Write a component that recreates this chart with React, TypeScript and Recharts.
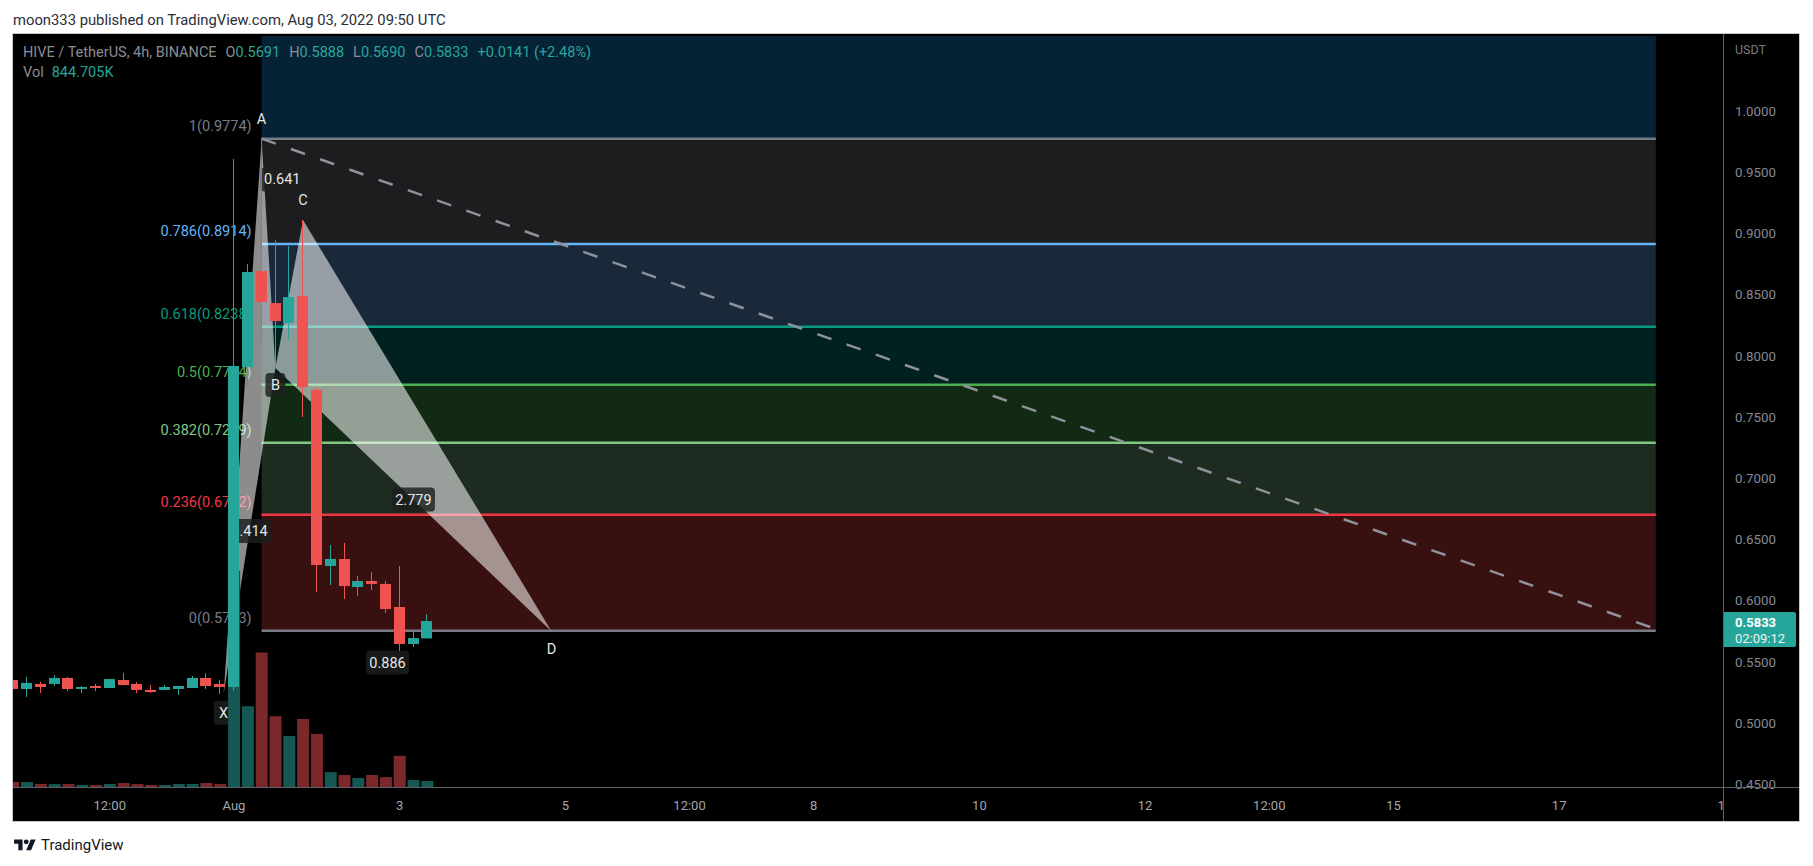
import React from 'react';
import {
  ComposedChart,
  Bar,
  Cell,
  XAxis,
  YAxis,
  ReferenceArea,
  ReferenceLine,
  Scatter,
} from 'recharts';

// 4h bars, index 0 = Aug 1 00:00 UTC
const barIndex = [
  -16, -15, -14, -13, -12, -11, -10, -9, -8, -7, -6, -5, -4, -3, -2, -1,
  0, 1, 2, 3, 4, 5, 6, 7, 8, 9, 10, 11, 12, 13, 14,
];
const opens = [
  0.5351, 0.5278, 0.5319, 0.5319, 0.5368, 0.5278, 0.5302, 0.5286, 0.5351, 0.5319, 0.527, 0.527, 0.5278, 0.5286, 0.5368, 0.5319,
  0.5294, 0.7908, 0.8693, 0.8431, 0.8268, 0.8489, 0.7721, 0.6283, 0.634, 0.6111, 0.616, 0.6136, 0.5948, 0.5645, 0.5691,
];
const highs = [
  0.5409, 0.5376, 0.5335, 0.5392, 0.5376, 0.5302, 0.5319, 0.5362, 0.5409, 0.5335, 0.531, 0.531, 0.5304, 0.5384, 0.5409, 0.5351,
  0.9608, 0.875, 0.9774, 0.8946, 0.8897, 0.9109, 0.7737, 0.6454, 0.6471, 0.6201, 0.6234, 0.616, 0.6283, 0.5752, 0.5888,
];
const lows = [
  0.527, 0.5212, 0.5245, 0.5302, 0.5261, 0.5245, 0.5261, 0.5284, 0.5308, 0.5245, 0.5245, 0.5268, 0.5229, 0.5284, 0.5278, 0.5238,
  0.5262, 0.7753, 0.8105, 0.79, 0.8137, 0.75, 0.607, 0.6127, 0.6013, 0.6038, 0.6087, 0.5899, 0.5588, 0.5621, 0.569,
];
const closes = [
  0.5278, 0.5327, 0.5294, 0.5368, 0.5278, 0.5294, 0.5286, 0.5359, 0.531, 0.527, 0.5253, 0.5294, 0.5302, 0.5368, 0.5302, 0.5294,
  0.7917, 0.8685, 0.844, 0.8284, 0.848, 0.7745, 0.6291, 0.634, 0.6119, 0.616, 0.6136, 0.5931, 0.5645, 0.5694, 0.5833,
];
// volume in thousands
const volumes = [
  690, 710, 430, 410, 440, 300, 270, 420, 560, 410, 290, 280, 430, 420, 570, 430,
  30500, 11400, 19000, 10000, 7200, 9600, 7500, 2100, 1700, 1270, 1700, 1400, 4400, 990, 844.705,
];

const fibRatios = [1, 0.786, 0.618, 0.5, 0.382, 0.236, 0];
const fibPrices = [0.9774, 0.8914, 0.8238, 0.7764, 0.7289, 0.6702, 0.5753];
const fibStart = 2;
const fibEnd = 103;

const patternNames = ['X', 'A', 'B', 'C', 'D'];
const patternIndex = [-0.75, 2, 3, 5, 23];
const patternPrices = [0.5238, 0.9774, 0.79, 0.9109, 0.575];
const ratioTexts = ['0.414', '0.641', '2.779', '0.886'];
const ratioPairs = [['X', 'B'], ['A', 'C'], ['B', 'D'], ['X', 'D']];

const trendIndex = [2, 102.8];
const trendPrices = [0.9774, 0.5776];

const timeTicks = [-9, 0, 12, 24, 33, 42, 54, 66, 75, 84, 96, 108];
const timeLabels = ['12:00', 'Aug', '3', '5', '12:00', '8', '10', '12', '12:00', '15', '17', '19'];
const priceTicks = [0.45, 0.5, 0.55, 0.6, 0.65, 0.7, 0.75, 0.8, 0.85, 0.9, 0.95, 1.0];

const lastPrice = 0.5833;
const countdown = '02:09:12';

// layout / style
const W = 1813;
const H = 866;
const MARGIN = { top: 36, right: 14, bottom: 45, left: 13 };
const PRICE_AXIS_W = 76;
const TIME_AXIS_H = 34;
const PLOT_RIGHT = W - MARGIN.right - PRICE_AXIS_W;
const X_DOMAIN: [number, number] = [-16.01, 107.87];
const Y_DOMAIN: [number, number] = [0.4477, 1.0613];
const FONT = 'Roboto, "Noto Sans", sans-serif';
const BODY_W = 11;
const UP = '#26a69a';
const DOWN = '#ef5350';
const UP_VOL = '#155752';
const DOWN_VOL = '#7a2829';
const fibLineColors = ['#787b86', '#64b5f6', '#089981', '#4caf50', '#81c784', '#f23645', '#787b86'];
const topBandColor = '#062237';
const fibBandColors = ['#1d1d1f', '#19293a', '#012121', '#122a14', '#1e2b20', '#38100f'];
const patternFill = 'rgba(255,255,255,0.55)';
const labelBox = 'rgba(28,32,30,0.82)';
const labelDy: Record<string, number> = { X: 19, A: -20, B: 17, C: -20, D: 18 };

const candleRows = barIndex.map((i, k) => ({
  i,
  o: opens[k],
  h: highs[k],
  l: lows[k],
  c: closes[k],
  range: [lows[k], highs[k]],
  vol: volumes[k],
}));

const pt = (name: string) => {
  const k = patternNames.indexOf(name);
  return { i: patternIndex[k], p: patternPrices[k] };
};
const xabPoints = ['X', 'A', 'B'].map(pt);
const bcdPoints = ['B', 'C', 'D'].map(pt);

const patternLabels = [
  ...patternNames.map((n, k) => ({ i: patternIndex[k], p: patternPrices[k], text: n, dy: labelDy[n], box: n === 'X' || n === 'B' })),
  ...ratioTexts.map((t, k) => {
    const a = pt(ratioPairs[k][0]);
    const b = pt(ratioPairs[k][1]);
    return { i: (a.i + b.i) / 2, p: (a.p + b.p) / 2, text: t, dy: 0, box: true };
  }),
];

const fibLabels = fibRatios.map((r, k) => ({
  i: fibStart,
  p: fibPrices[k],
  text: `${r}(${fibPrices[k].toFixed(4)})`,
  color: fibLineColors[k],
}));

function CandleShape(props: any) {
  const { x, y, width, height } = props;
  const row = props.payload && props.payload.o !== undefined ? props.payload : props;
  if (!Number.isFinite(y) || !Number.isFinite(height) || row.o === undefined) return <g />;
  const { o, h, l, c } = row;
  const yTop = Math.min(y, y + height);
  const full = Math.abs(height);
  const span = h - l || 1;
  const py = (v: number) => yTop + ((h - v) / span) * full;
  const color = c >= o ? UP : DOWN;
  const center = x + (Number.isFinite(width) ? width : 0) / 2;
  const left = Math.round(center - BODY_W / 2);
  const mid = left + Math.floor(BODY_W / 2) + 0.5;
  const top = py(Math.max(o, c));
  const bottom = py(Math.min(o, c));
  return (
    <g>
      <line x1={mid} x2={mid} y1={yTop} y2={yTop + full} stroke={color} strokeWidth={1} />
      <rect x={left} y={top} width={BODY_W} height={Math.max(1, bottom - top)} fill={color} />
    </g>
  );
}

const polygonLine = (fill: string) => (props: any) => {
  const pts = (props.points || []).map((q: any) => `${q.x},${q.y}`).join(' ');
  return <polygon points={pts} fill={fill} stroke="none" />;
};

function TagShape(props: any) {
  const { cx, cy, payload } = props;
  if (!payload) return <g />;
  const { text, dy, box } = payload;
  const w = Math.max(20, text.length * 7 + 8);
  return (
    <g>
      {box && <rect x={cx - w / 2} y={cy + dy - 12} width={w} height={24} rx={4} fill={labelBox} />}
      <text x={cx} y={cy + dy} dy="0.35em" textAnchor="middle" fill="#e6e6e6" fontSize={14.5} fontFamily={FONT}>
        {text}
      </text>
    </g>
  );
}

function FibLabel(props: any) {
  const { cx, cy, payload } = props;
  if (!payload) return <g />;
  return (
    <text x={cx - 10} y={cy - 13} dy="0.35em" textAnchor="end" fill={payload.color} fontSize={14.5} fontFamily={FONT}>
      {payload.text}
    </text>
  );
}

function TimeTick(props: any) {
  const { x, y, payload } = props;
  const k = timeTicks.indexOf(payload.value);
  return (
    <svg x={0} y={0} width={PLOT_RIGHT} height={H} overflow="hidden">
      <text x={x} y={y} dy="0.71em" textAnchor="middle" fill="#a3a6af" fontSize={13} fontFamily={FONT}>
        {timeLabels[k]}
      </text>
    </svg>
  );
}

function PriceTag(props: any) {
  const { viewBox } = props;
  if (!viewBox) return <g />;
  const x = viewBox.x + viewBox.width;
  const y = viewBox.y;
  return (
    <g>
      <rect x={x} y={y - 9} width={73} height={35} rx={2} fill={UP} />
      <text x={x + 12} y={y + 1} dy="0.35em" fill="#ffffff" fontWeight="bold" fontSize={13} fontFamily={FONT}>
        {lastPrice.toFixed(4)}
      </text>
      <text x={x + 12} y={y + 17} dy="0.35em" fill="#f0f0f0" fontSize={13} fontFamily={FONT}>
        {countdown}
      </text>
    </g>
  );
}

const upper = [Y_DOMAIN[1], ...fibPrices.slice(0, -1)];

export default function App() {
  return (
    <div
      style={{
        position: 'fixed',
        left: 0,
        top: 0,
        width: W,
        height: H,
        background: '#ffffff',
        fontFamily: FONT,
        overflow: 'hidden',
      }}
    >
      <div style={{ position: 'absolute', left: 13, top: 11, fontSize: 14.8, lineHeight: '18px', color: '#2a2e39' }}>
        moon333 published on TradingView.com, Aug 03, 2022 09:50 UTC
      </div>
      <div
        style={{
          position: 'absolute',
          left: 12,
          top: 33,
          width: 1788,
          height: 789,
          background: '#000000',
          border: '1px solid #c6c8ce',
          boxSizing: 'border-box',
        }}
      />
      <div style={{ position: 'absolute', left: 0, top: 0 }}>
        <ComposedChart width={W} height={H} data={candleRows} margin={MARGIN}>
          <XAxis
            xAxisId="t"
            dataKey="i"
            type="number"
            domain={X_DOMAIN}
            allowDataOverflow
            ticks={timeTicks}
            interval={0}
            height={TIME_AXIS_H}
            tickLine={false}
            axisLine={false}
            tickMargin={8}
            tick={<TimeTick />}
          />
          <XAxis xAxisId="v" dataKey="i" type="number" domain={X_DOMAIN} allowDataOverflow hide height={0} />
          <XAxis xAxisId="c" dataKey="i" type="number" domain={X_DOMAIN} allowDataOverflow hide height={0} />
          <YAxis
            yAxisId="p"
            orientation="right"
            type="number"
            domain={Y_DOMAIN}
            allowDataOverflow
            ticks={priceTicks}
            interval={0}
            width={PRICE_AXIS_W}
            tickLine={false}
            axisLine={false}
            tickMargin={6}
            tickFormatter={(v: number) => v.toFixed(4)}
            tick={{ fill: '#868993', fontSize: 13.3, fontFamily: FONT }}
          />
          <YAxis yAxisId="v" type="number" domain={[0, 106000]} allowDataOverflow hide width={0} />

          {upper.map((top, k) => (
            <ReferenceArea
              key={`band-${k}`}
              xAxisId="t"
              yAxisId="p"
              x1={fibStart}
              x2={fibEnd}
              y1={fibPrices[k]}
              y2={top}
              fill={k === 0 ? topBandColor : fibBandColors[k - 1]}
              fillOpacity={1}
              stroke="none"
              ifOverflow="hidden"
              zIndex={10}
            />
          ))}
          {fibPrices.map((p, k) => (
            <ReferenceLine
              key={`fib-${k}`}
              xAxisId="t"
              yAxisId="p"
              segment={[
                { x: fibStart, y: p },
                { x: fibEnd, y: p },
              ]}
              stroke={fibLineColors[k]}
              strokeWidth={2.5}
              ifOverflow="visible"
              zIndex={20}
            />
          ))}
          <ReferenceLine
            xAxisId="t"
            yAxisId="p"
            segment={[
              { x: trendIndex[0], y: trendPrices[0] },
              { x: trendIndex[1], y: trendPrices[1] },
            ]}
            stroke="#8f929b"
            strokeWidth={2.5}
            strokeDasharray="15 16"
            ifOverflow="visible"
            zIndex={25}
          />
          <Scatter
            xAxisId="t"
            yAxisId="p"
            dataKey="p"
            data={fibLabels}
            shape={<FibLabel />}
            isAnimationActive={false}
            zIndex={30}
          />
          <Scatter
            xAxisId="t"
            yAxisId="p"
            dataKey="p"
            data={xabPoints}
            line={polygonLine(patternFill)}
            shape={() => <g />}
            isAnimationActive={false}
            zIndex={40}
          />
          <Scatter
            xAxisId="t"
            yAxisId="p"
            dataKey="p"
            data={bcdPoints}
            line={polygonLine(patternFill)}
            shape={() => <g />}
            isAnimationActive={false}
            zIndex={41}
          />
          <Scatter
            xAxisId="t"
            yAxisId="p"
            dataKey="p"
            data={patternLabels}
            shape={<TagShape />}
            isAnimationActive={false}
            zIndex={50}
          />
          <Bar xAxisId="v" yAxisId="v" dataKey="vol" barSize={12} isAnimationActive={false} zIndex={60}>
            {candleRows.map((r, k) => (
              <Cell key={`v-${k}`} fill={r.c >= r.o ? UP_VOL : DOWN_VOL} />
            ))}
          </Bar>
          <Bar
            xAxisId="c"
            yAxisId="p"
            dataKey="range"
            barSize={BODY_W}
            shape={<CandleShape />}
            isAnimationActive={false}
            zIndex={70}
          />
          <ReferenceLine
            xAxisId="t"
            yAxisId="p"
            y={lastPrice}
            stroke="transparent"
            strokeWidth={0}
            label={<PriceTag />}
            zIndex={80}
          />
        </ComposedChart>
      </div>

      <div style={{ position: 'absolute', left: PLOT_RIGHT, top: 34, width: 1, height: 787, background: '#5d606b' }} />
      <div style={{ position: 'absolute', left: 13, top: 787, width: 1786, height: 1, background: '#5d606b' }} />

      <div
        style={{
          position: 'absolute',
          left: 23,
          top: 44,
          fontSize: 14.5,
          lineHeight: '18px',
          color: '#8a8d95',
          whiteSpace: 'nowrap',
        }}
      >
        <span>HIVE / TetherUS, 4h, BINANCE</span>
        <span style={{ marginLeft: 9 }}>O</span>
        <span style={{ color: UP }}>0.5691</span>
        <span style={{ marginLeft: 9 }}>H</span>
        <span style={{ color: UP }}>0.5888</span>
        <span style={{ marginLeft: 9 }}>L</span>
        <span style={{ color: UP }}>0.5690</span>
        <span style={{ marginLeft: 9 }}>C</span>
        <span style={{ color: UP }}>0.5833</span>
        <span style={{ marginLeft: 9, color: UP }}>+0.0141 (+2.48%)</span>
      </div>
      <div
        style={{
          position: 'absolute',
          left: 23,
          top: 64,
          fontSize: 14.5,
          lineHeight: '18px',
          color: '#8a8d95',
          whiteSpace: 'nowrap',
        }}
      >
        <span>Vol</span>
        <span style={{ marginLeft: 8, color: UP }}>844.705K</span>
      </div>
      <div style={{ position: 'absolute', left: 1735, top: 42, fontSize: 12.5, lineHeight: '16px', color: '#787b86' }}>
        USDT
      </div>

      <div style={{ position: 'absolute', left: 14, top: 836, display: 'flex', alignItems: 'center' }}>
        <svg width={22} height={17} viewBox="0 0 36 28">
          <path d="M14 22H7V11H0V4h14v18zM28 22h-8l7.5-18h8L28 22z" fill="#131722" />
          <circle cx={20} cy={8} r={4} fill="#131722" />
        </svg>
        <span style={{ marginLeft: 5, fontSize: 15, color: '#131722' }}>TradingView</span>
      </div>
    </div>
  );
}
